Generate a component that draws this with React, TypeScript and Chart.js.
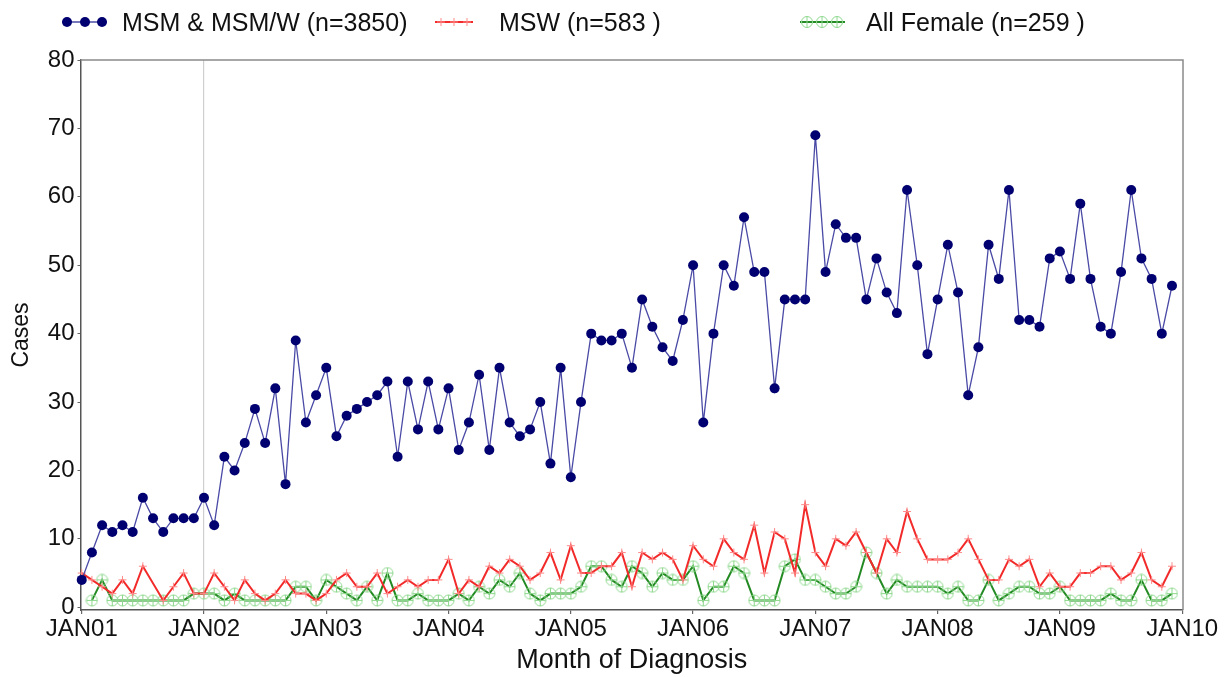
import React, { useEffect, useRef } from "react";
import { Chart, registerables } from "chart.js";

Chart.register(...registerables);

// Month index 0 = JAN01 ... 107 = DEC09
const tickPositions = [0, 12, 24, 36, 48, 60, 72, 84, 96, 108];
const tickLabels = ["JAN01", "JAN02", "JAN03", "JAN04", "JAN05", "JAN06", "JAN07", "JAN08", "JAN09", "JAN10"];
const yTicks = [0, 10, 20, 30, 40, 50, 60, 70, 80];

const msmValues = [
  4, 8, 12, 11, 12, 11, 16, 13, 11, 13, 13, 13,
  16, 12, 22, 20, 24, 29, 24, 32, 18, 39, 27, 31,
  35, 25, 28, 29, 30, 31, 33, 22, 33, 26, 33, 26,
  32, 23, 27, 34, 23, 35, 27, 25, 26, 30, 21, 35,
  19, 30, 40, 39, 39, 40, 35, 45, 41, 38, 36, 42,
  50, 27, 40, 50, 47, 57, 49, 49, 32, 45, 45, 45,
  69, 49, 56, 54, 54, 45, 51, 46, 43, 61, 50, 37,
  45, 53, 46, 31, 38, 53, 48, 61, 42, 42, 41, 51,
  52, 48, 59, 48, 41, 40, 49, 61, 51, 48, 40, 47,
];

const mswValues = [
  5, 4, 3, 2, 4, 2, 6, null, 1, 3, 5, 2,
  2, 5, 3, 1, 4, 2, 1, 2, 4, 2, 2, 1,
  2, 4, 5, 3, 3, 5, 2, 3, 4, 3, 4, 4,
  7, 2, 4, 3, 6, 5, 7, 6, 4, 5, 8, 4,
  9, 5, 5, 6, 6, 8, 3, 8, 7, 8, 7, 4,
  9, 7, 6, 10, 8, 7, 12, 5, 11, 10, 5, 15,
  8, 6, 10, 9, 11, 8, 5, 10, 8, 14, 10, 7,
  7, 7, 8, 10, 7, 4, 4, 7, 6, 7, 3, 5,
  3, 3, 5, 5, 6, 6, 4, 5, 8, 4, 3, 6,
];

const femaleValues = [
  null, 1, 4, 1, 1, 1, 1, 1, 1, 1, 1, 2,
  2, 2, 1, 2, 1, 1, 1, 1, 1, 3, 3, 1,
  4, 3, 2, 1, 3, 1, 5, 1, 1, 2, 1, 1,
  1, 2, 1, 3, 2, 4, 3, 5, 2, 1, 2, 2,
  2, 3, 6, 6, 4, 3, 6, 5, 3, 5, 4, 4,
  6, 1, 3, 3, 6, 5, 1, 1, 1, 6, 7, 4,
  4, 3, 2, 2, 3, 8, 5, 2, 4, 3, 3, 3,
  3, 2, 3, 1, 1, 4, 1, 2, 3, 3, 2, 2,
  3, 1, 1, 1, 1, 2, 1, 1, 4, 1, 1, 2,
];

const seriesLabels = ["MSM & MSM/W (n=3850)", "MSW (n=583 )", "All Female (n=259 )"];

const FONT = "'Liberation Sans', Arial, Helvetica, sans-serif";
const BLUE_LINE = "#4a4aa6";
const BLUE_DOT = "#000070";
const RED_LINE = "#f22a2a";
const RED_MARK = "#ff8a8a";
const GREEN_LINE = "#238a23";
const GREEN_MARK = "#8ed88e";

function toPoints(vals: (number | null)[]) {
  return vals.map((v, i) => ({ x: i, y: v }));
}

export default function App() {
  const ref = useRef<HTMLCanvasElement>(null);

  useEffect(() => {
    const canvas = ref.current;
    if (!canvas) return;

    const marker = document.createElement("canvas");
    marker.width = 13;
    marker.height = 13;
    const g = marker.getContext("2d")!;
    g.strokeStyle = GREEN_MARK;
    g.lineWidth = 1;
    g.beginPath();
    g.arc(6.5, 6.5, 5.5, 0, Math.PI * 2);
    g.stroke();
    g.beginPath();
    g.moveTo(1, 6.5);
    g.lineTo(12, 6.5);
    g.moveTo(6.5, 1);
    g.lineTo(6.5, 12);
    g.stroke();

    const boxPlugin = {
      id: "box",
      afterDraw(chart: any) {
        const { ctx, chartArea } = chart;
        ctx.save();
        ctx.strokeStyle = "#8a8a8a";
        ctx.lineWidth = 1.5;
        ctx.beginPath();
        ctx.moveTo(chartArea.left, chartArea.top);
        ctx.lineTo(chartArea.right, chartArea.top);
        ctx.lineTo(chartArea.right, chartArea.bottom);
        ctx.stroke();
        ctx.restore();
      },
    };

    const chart = new Chart(canvas, {
      type: "line",
      data: {
        datasets: [
          {
            label: seriesLabels[2],
            data: toPoints(femaleValues),
            borderColor: GREEN_LINE,
            borderWidth: 2,
            pointStyle: marker as any,
            pointRadius: 6,
            spanGaps: true,
            clip: false as any,
            order: 3,
          },
          {
            label: seriesLabels[1],
            data: toPoints(mswValues),
            borderColor: RED_LINE,
            borderWidth: 2,
            pointStyle: "cross",
            pointRadius: 4,
            pointBorderColor: RED_MARK,
            pointBorderWidth: 1,
            spanGaps: true,
            clip: false as any,
            order: 2,
          },
          {
            label: seriesLabels[0],
            data: toPoints(msmValues),
            borderColor: BLUE_LINE,
            borderWidth: 1.3,
            pointStyle: "circle",
            pointRadius: 5,
            pointBackgroundColor: BLUE_DOT,
            pointBorderColor: BLUE_DOT,
            pointBorderWidth: 0,
            spanGaps: true,
            clip: false as any,
            order: 1,
          },
        ],
      },
      options: {
        animation: false,
        responsive: false,
        maintainAspectRatio: false,
        events: [],
        layout: { padding: { left: 0, right: 41, top: 60, bottom: 0 } },
        plugins: {
          legend: { display: false },
          title: { display: false },
          tooltip: { enabled: false },
        },
        scales: {
          x: {
            type: "linear",
            min: -0.12,
            max: 108.08,
            afterFit: (s: any) => {
              s.height = 67;
            },
            afterBuildTicks: (s: any) => {
              s.ticks = tickPositions.map((v) => ({ value: v }));
            },
            ticks: {
              autoSkip: false,
              maxRotation: 0,
              padding: 1,
              color: "#111",
              font: { family: FONT, size: 24 },
              callback: (_v: any, i: number) => tickLabels[i],
            },
            grid: {
              drawOnChartArea: true,
              color: (c: any) => (c.tick && c.tick.value === 12 ? "#cfcfcf" : "rgba(0,0,0,0)"),
              tickColor: "#666",
              tickLength: 4,
              lineWidth: 1.2,
            },
            border: { color: "#555", width: 1.5 },
            title: {
              display: true,
              text: "Month of Diagnosis",
              color: "#111",
              font: { family: FONT, size: 27 },
              padding: { top: 0, bottom: 0 },
            },
          },
          y: {
            type: "linear",
            min: -0.4,
            max: 80,
            afterFit: (s: any) => {
              s.width = 80.5;
            },
            afterBuildTicks: (s: any) => {
              s.ticks = yTicks.map((v) => ({ value: v }));
            },
            ticks: {
              padding: 3,
              color: "#111",
              font: { family: FONT, size: 24 },
            },
            grid: {
              drawOnChartArea: false,
              tickColor: "#666",
              tickLength: 3,
            },
            border: { color: "#555", width: 1.5 },
            title: {
              display: true,
              text: "Cases",
              color: "#111",
              font: { family: FONT, size: 23 },
              padding: { top: 8, bottom: 0 },
            },
          },
        },
      },
      plugins: [boxPlugin],
    } as any);

    return () => chart.destroy();
  }, []);

  const legendText: React.CSSProperties = {
    position: "absolute",
    top: 6,
    fontFamily: FONT,
    fontSize: 25,
    lineHeight: "32px",
    color: "#111",
    whiteSpace: "nowrap",
  };

  return (
    <div style={{ position: "fixed", left: 0, top: 0, width: 1224, height: 677, background: "#fff", overflow: "hidden" }}>
      <canvas ref={ref} width={1224} height={677} style={{ position: "absolute", left: 0, top: 0 }} />
      <svg width={1224} height={40} style={{ position: "absolute", left: 0, top: 2 }}>
        <line x1={62} y1={20} x2={107} y2={20} stroke={BLUE_LINE} strokeWidth={1.5} />
        <circle cx={67} cy={20} r={5} fill={BLUE_DOT} />
        <circle cx={85} cy={20} r={5} fill={BLUE_DOT} />
        <circle cx={102} cy={20} r={5} fill={BLUE_DOT} />
        <line x1={435} y1={20} x2={473} y2={20} stroke={RED_LINE} strokeWidth={2} />
        {[441, 454, 467].map((cx) => (
          <g key={cx} stroke={RED_MARK} strokeWidth={1}>
            <line x1={cx} y1={16} x2={cx} y2={24} />
            <line x1={cx - 4} y1={20} x2={cx + 4} y2={20} />
          </g>
        ))}
        <line x1={800} y1={20} x2={845} y2={20} stroke={GREEN_LINE} strokeWidth={2} />
        {[807, 822, 837].map((cx) => (
          <g key={cx} stroke={GREEN_MARK} strokeWidth={1} fill="none">
            <circle cx={cx} cy={20} r={5.5} />
            <line x1={cx} y1={14.5} x2={cx} y2={25.5} />
          </g>
        ))}
      </svg>
      <div style={{ ...legendText, left: 122 }}>{seriesLabels[0]}</div>
      <div style={{ ...legendText, left: 499 }}>{seriesLabels[1]}</div>
      <div style={{ ...legendText, left: 866 }}>{seriesLabels[2]}</div>
    </div>
  );
}
